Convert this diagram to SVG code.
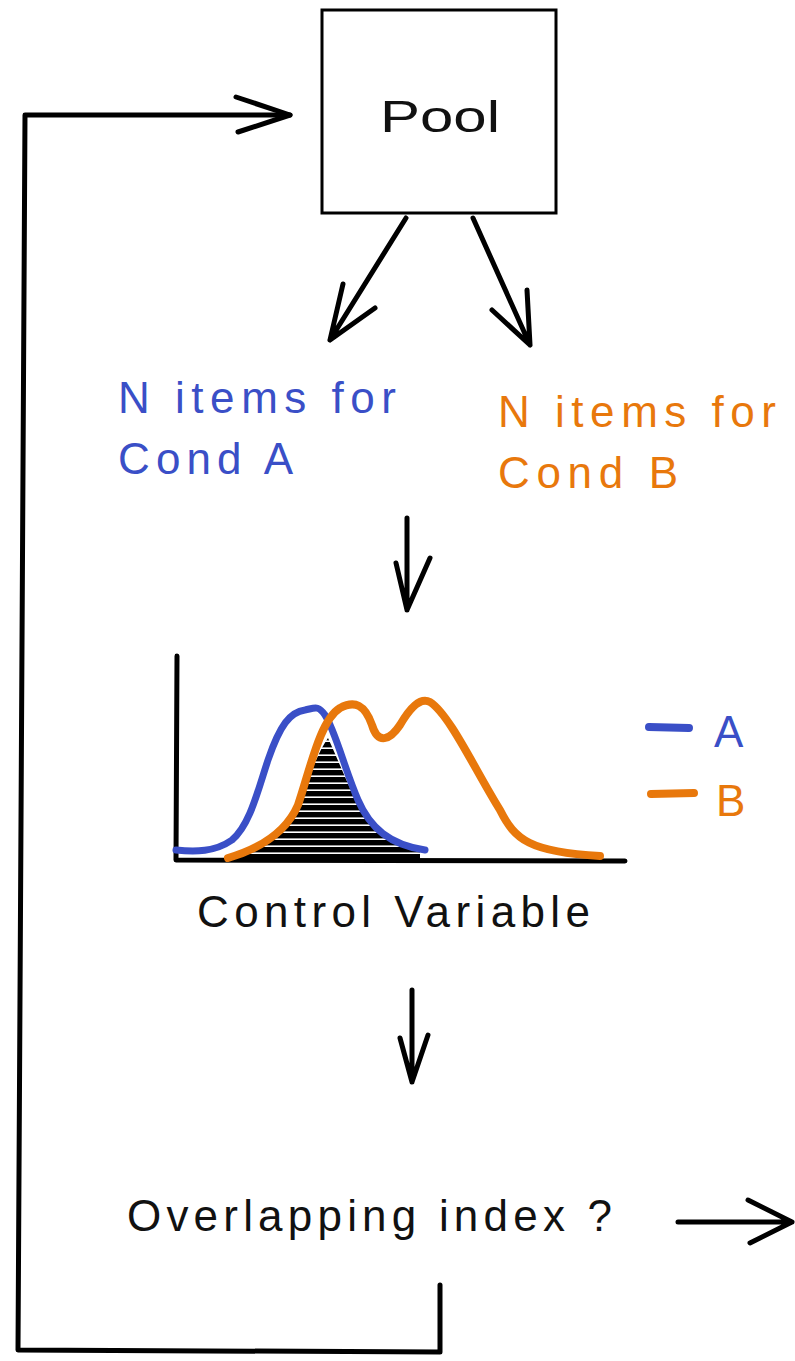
<svg xmlns="http://www.w3.org/2000/svg" width="795" height="1361" viewBox="0 0 795 1361">
<style>
.ln{fill:none;stroke:#000;stroke-width:5;stroke-linecap:round;stroke-linejoin:round}
.t{font-family:"Liberation Sans",Arial,sans-serif;font-size:44px}
.blue{fill:#3a4fc7}
.orange{fill:#e8780c}
.bk{fill:#111}
</style>
<defs>
<pattern id="hatch" width="12" height="7" patternUnits="userSpaceOnUse">
<rect width="12" height="5.4" fill="#000"/>
</pattern>
</defs>
<rect width="795" height="1361" fill="#fff"/>
<g id="pool">
<rect x="322" y="10" width="234" height="203" fill="none" stroke="#000" stroke-width="3"/>
<text class="t bk" x="380" y="132" font-size="50" textLength="120" lengthAdjust="spacingAndGlyphs">Pool</text>
</g>
<g id="condA">
<text class="t blue" x="118" y="413" textLength="278" lengthAdjust="spacing">N items for</text>
<text class="t blue" x="118" y="474" textLength="175" lengthAdjust="spacing">Cond A</text>
</g>
<g id="condB">
<text class="t orange" x="498" y="427" textLength="278" lengthAdjust="spacing">N items for</text>
<text class="t orange" x="498" y="488" textLength="180" lengthAdjust="spacing">Cond B</text>
</g>
<g id="chart">
<path d="M235,858 C260,850 285,835 298,805 C310,775 318,752 328,738 C338,760 348,785 358,805 C370,828 390,845 420,852 L420,859 Z" fill="url(#hatch)"/>
<path class="ln" d="M177,656 L176,860 L625,861" stroke-width="4"/>
<path d="M176,850 C195,852 215,852 232,840 C250,825 258,790 268,760 C280,725 290,712 305,710 C315,708 318,705 325,715 C335,730 345,770 358,800 C370,828 390,845 425,850" fill="none" stroke="#3a4fc7" stroke-width="7" stroke-linecap="round"/>
<path d="M228,858 C255,850 285,835 298,805 C310,770 320,720 340,708 C355,700 365,705 372,725 C378,745 390,740 400,725 C410,708 420,697 430,702 C450,715 475,770 500,810 C515,840 530,852 600,856" fill="none" stroke="#e8780c" stroke-width="8" stroke-linecap="round" stroke-linejoin="round"/>
<text class="t bk" x="197" y="927" textLength="393" lengthAdjust="spacing" font-size="42">Control Variable</text>
</g>
<g id="legend">
<path d="M649,727 L689,728" stroke="#3a4fc7" stroke-width="8" stroke-linecap="round"/>
<text class="t blue" x="714" y="747">A</text>
<path d="M651,794 L694,793" stroke="#e8780c" stroke-width="8" stroke-linecap="round"/>
<text class="t orange" x="716" y="816">B</text>
</g>
<g id="overlap">
<text class="t bk" x="127" y="1231" textLength="485" lengthAdjust="spacing">Overlapping index ?</text>
</g>
<g id="connectors">
<path class="ln" d="M440,1285 L440,1352 L18,1350 L25,115 L290,115"/>
<path class="ln" d="M236,97 L290,115 L238,132"/>
<path class="ln" d="M406,218 L330,340 M343,284 L330,340 L375,308"/>
<path class="ln" d="M473,218 L530,345 M492,310 L530,345 L527,290"/>
<path class="ln" d="M407,518 L407,610 M396,563 L407,610 L430,558"/>
<path class="ln" d="M412,990 L412,1082 M400,1038 L412,1082 L428,1035"/>
<path class="ln" d="M678,1222 L792,1222 M748,1200 L792,1222 L750,1243"/>
</g>
</svg>
